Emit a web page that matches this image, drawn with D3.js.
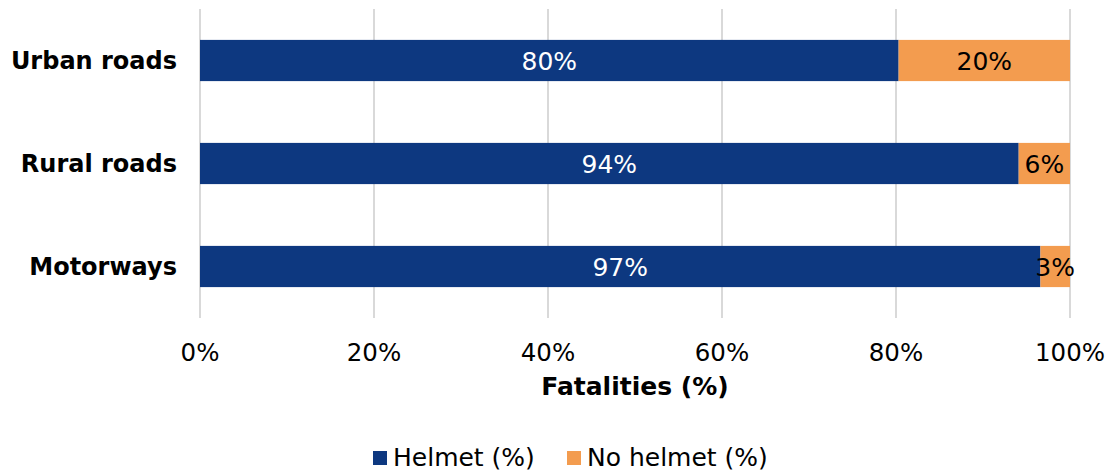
<!DOCTYPE html>
<html><head><meta charset="utf-8">
<script src="https://cdn.jsdelivr.net/npm/d3@7/dist/d3.min.js"></script>
<style>body{margin:0;background:#fff}svg{display:block}text{font-family:"DejaVu Sans",Verdana,sans-serif}</style>
</head><body>
<svg id="c" width="1110" height="472"></svg>
<script>
const categories = ["Urban roads", "Rural roads", "Motorways"];
const helmet = [80.3, 94.1, 96.6];
const noHelmet = [19.7, 5.9, 3.4];
const ticks = [0, 20, 40, 60, 80, 100];
const seriesNames = ["Helmet (%)", "No helmet (%)"];
const colors = ["#0d3880", "#f39c4f"];

const svg = d3.select("#c");
const x = d3.scaleLinear().domain([0, 100]).range([200, 1070]);
const y = d3.scaleBand().domain(categories).range([9, 318]).paddingInner(0.6).paddingOuter(0.3);

// gridlines
svg.append("g").selectAll("line").data(ticks).join("line")
  .attr("x1", d => x(d)).attr("x2", d => x(d)).attr("y1", 9).attr("y2", 318)
  .attr("stroke", "#d9d9d9").attr("stroke-width", 2);

// tick labels
svg.append("g").selectAll("text").data(ticks).join("text")
  .attr("x", d => x(d)).attr("y", 361).attr("text-anchor", "middle")
  .attr("font-size", 24.5).attr("fill", "#000").text(d => d + "%");

// bars
const rows = categories.map((c, i) => ({c, h: helmet[i], n: noHelmet[i]}));
const g = svg.append("g");
rows.forEach(r => {
  g.append("rect").attr("x", x(0)).attr("y", y(r.c)).attr("width", x(r.h) - x(0)).attr("height", y.bandwidth()).attr("fill", colors[0]);
  g.append("rect").attr("x", x(r.h)).attr("y", y(r.c)).attr("width", x(r.h + r.n) - x(r.h)).attr("height", y.bandwidth()).attr("fill", colors[1]);
  const cy = y(r.c) + y.bandwidth() / 2;
  g.append("text").attr("x", (x(0) + x(r.h)) / 2).attr("y", cy).attr("dy", "0.36em")
    .attr("text-anchor", "middle").attr("font-size", 25).attr("fill", "#fff").text(Math.round(r.h) + "%");
  g.append("text").attr("x", (x(r.h) + x(r.h + r.n)) / 2).attr("y", cy).attr("dy", "0.36em")
    .attr("text-anchor", "middle").attr("font-size", 25).attr("fill", "#000").text(Math.round(r.n) + "%");
});

// category labels
svg.append("g").selectAll("text").data(categories).join("text")
  .attr("x", 177).attr("y", d => y(d) + y.bandwidth() / 2).attr("dy", "0.36em")
  .attr("text-anchor", "end").attr("font-size", 24).attr("font-weight", "bold").attr("fill", "#000").text(d => d);

// axis title
svg.append("text").attr("x", 635).attr("y", 395).attr("text-anchor", "middle")
  .attr("font-size", 25).attr("font-weight", "bold").attr("fill", "#000").text("Fatalities (%)");

// legend
const leg = svg.append("g");
const legX = [373, 567];
seriesNames.forEach((s, i) => {
  leg.append("rect").attr("x", legX[i]).attr("y", 451).attr("width", 14).attr("height", 14).attr("fill", colors[i]);
  leg.append("text").attr("x", legX[i] + 20).attr("y", 466).attr("font-size", 25).attr("fill", "#000").text(s);
});
</script>
</body></html>
